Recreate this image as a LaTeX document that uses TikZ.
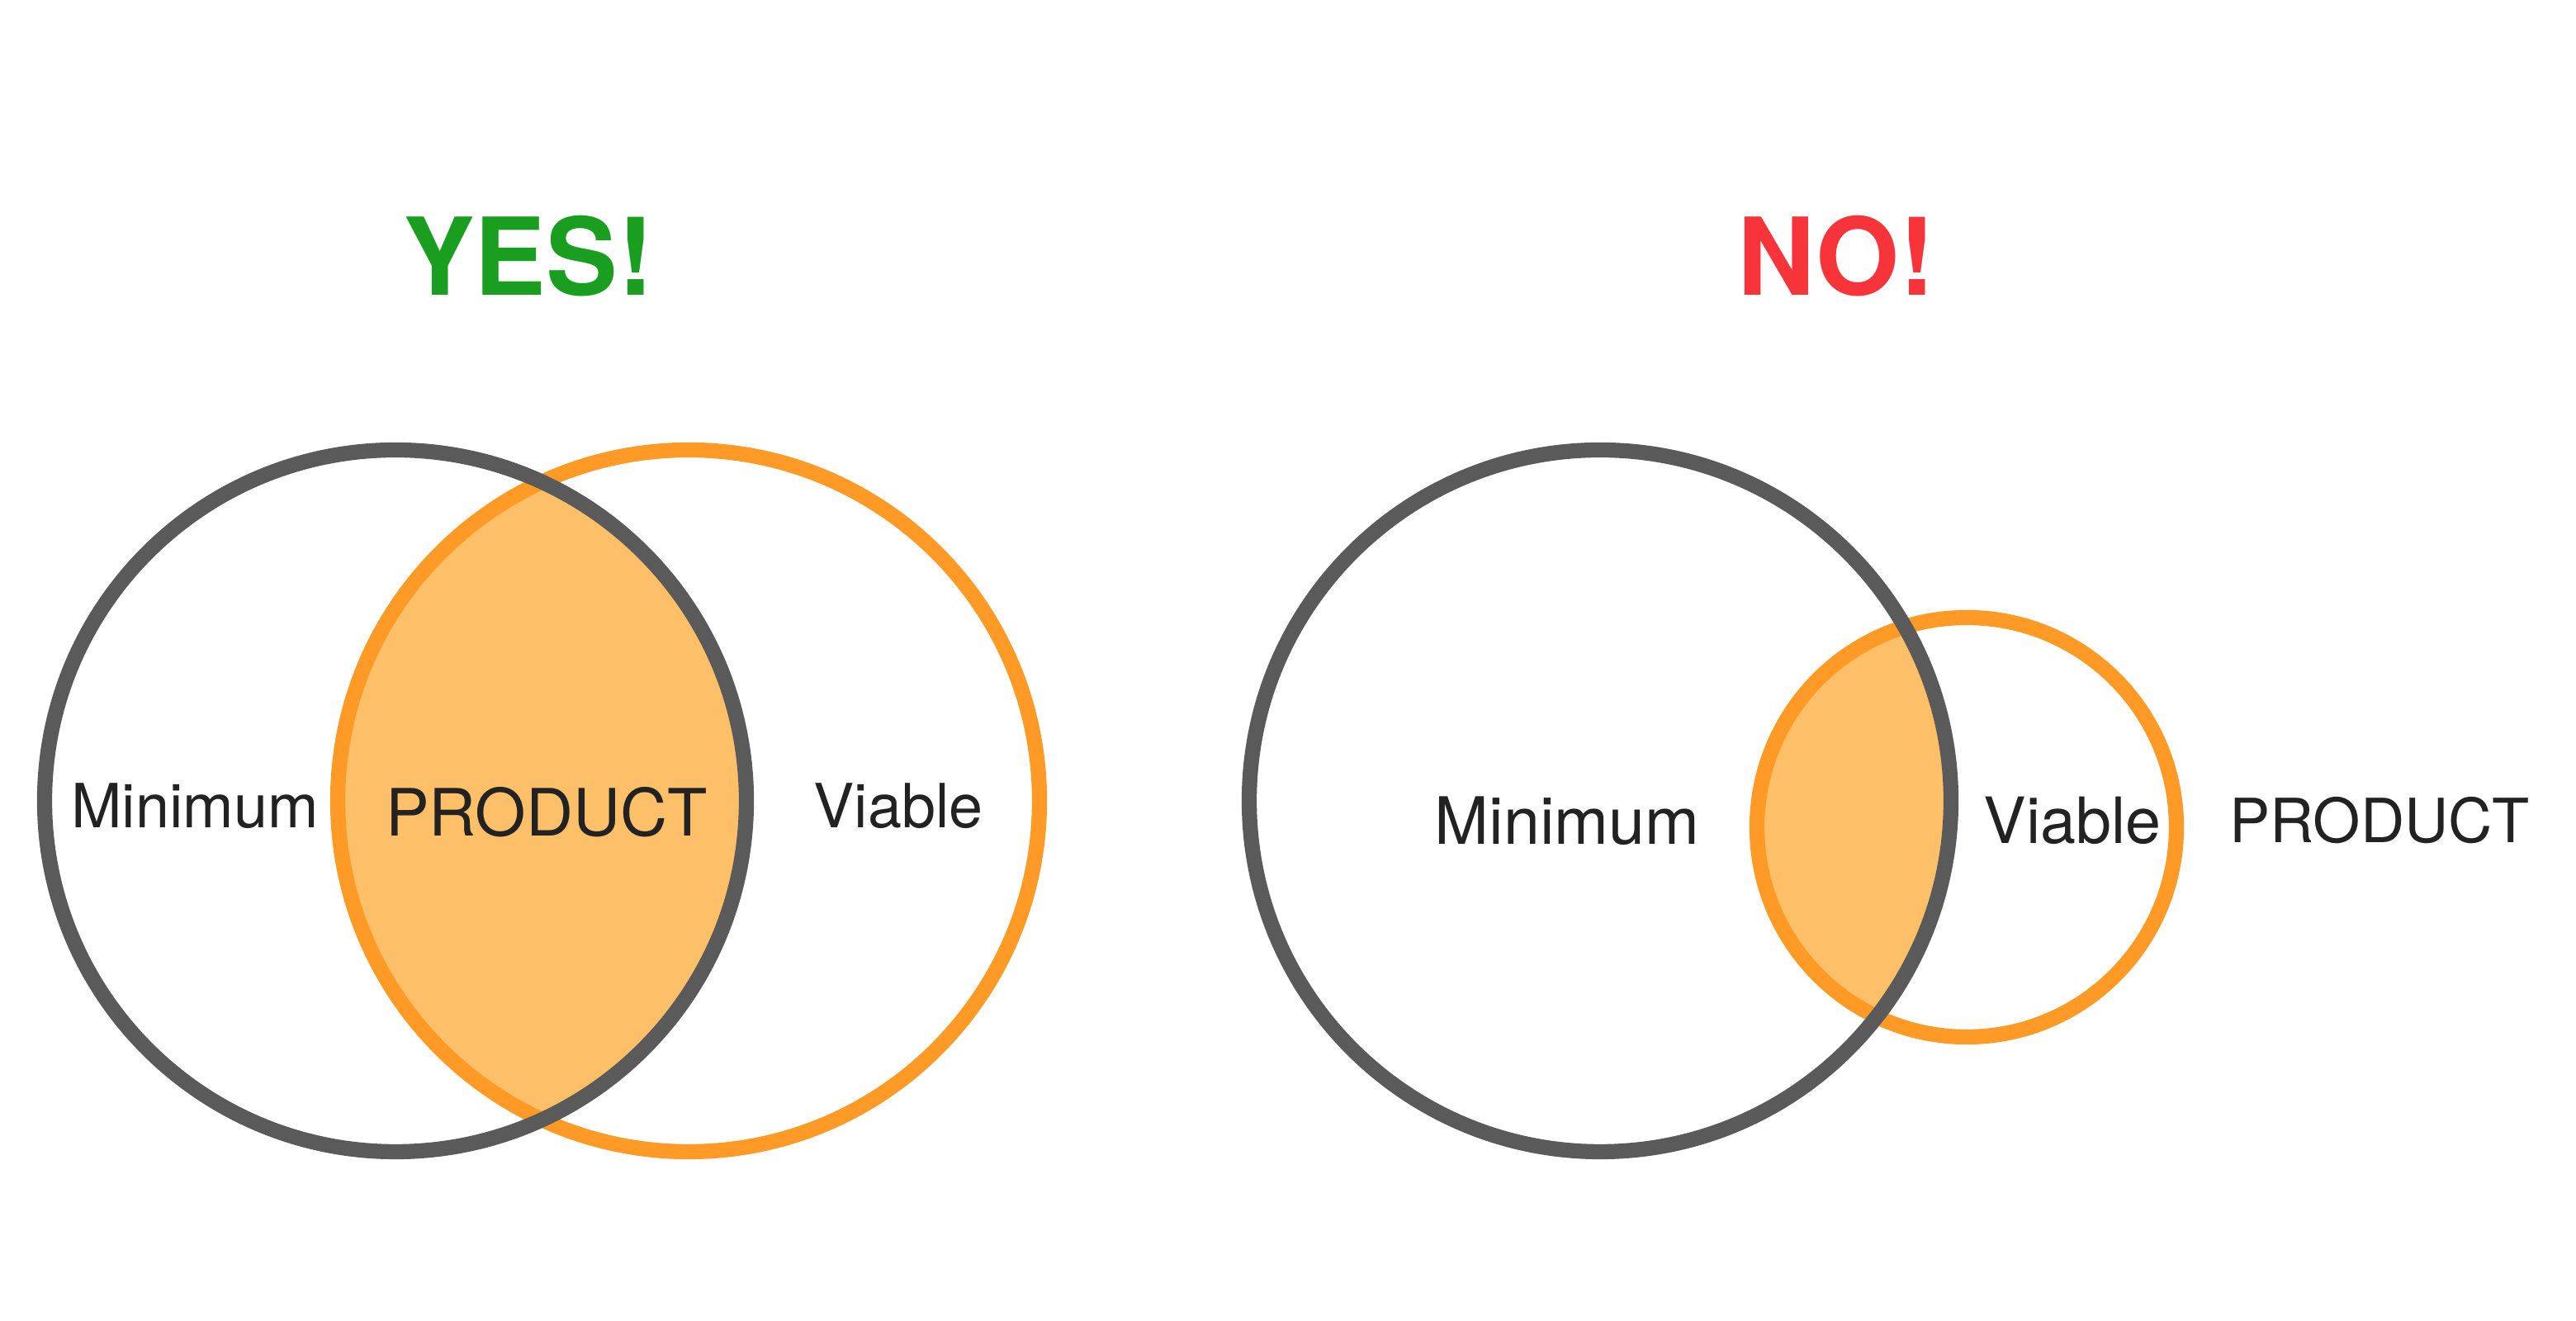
\documentclass[tikz,border=0pt]{standalone}
\usepackage{fontspec}
\setmainfont{TeX Gyre Heros}
\definecolor{yesgreen}{RGB}{26,158,32}
\definecolor{nored}{RGB}{246,52,58}
\definecolor{ringorange}{RGB}{255,154,38}
\definecolor{lensfill}{RGB}{253,192,104}
\definecolor{ringgray}{RGB}{90,90,90}
\definecolor{labeltext}{RGB}{34,34,34}
\begin{document}
\begin{tikzpicture}[
  grayring/.style={draw=ringgray, line width=5.2pt},
  orangering/.style={draw=ringorange, line width=5.2pt},
  lbl/.style={text=labeltext, inner sep=0pt, font=\fontsize{21}{25}\selectfont},
  head/.style={inner sep=0pt, font=\fontsize{37}{44}\selectfont\bfseries}
]
\useasboundingbox (0,0) rectangle (31.2,16);
% centres
\coordinate (gL) at (4.79,6.30);
\coordinate (oL) at (8.34,6.30);
\coordinate (gR) at (19.38,6.30);
\coordinate (oR) at (23.82,5.98);
% left lens
\begin{scope}
  \clip (gL) circle (4.25);
  \fill[lensfill] (oL) circle (4.25);
\end{scope}
\draw[orangering] (oL) circle (4.25);
\draw[grayring] (gL) circle (4.25);
% right lens
\begin{scope}
  \clip (gR) circle (4.25);
  \fill[lensfill] (oR) circle (2.54);
\end{scope}
\draw[orangering] (oR) circle (2.54);
\draw[grayring] (gR) circle (4.25);
% headings
\node[head, text=yesgreen] (yes) at (6.40,12.90) {YES!};
\node[head, text=nored] (no) at (22.24,12.90) {NO!};
% labels left
\node[lbl] (minL) at (2.36,6.24) {Minimum};
\node[lbl, font=\fontsize{22.5}{27}\selectfont] (prodL) at (6.62,6.16) {PRODUCT};
\node[lbl] (viaL) at (10.88,6.24) {Viable};
% labels right
\node[lbl, font=\fontsize{22.5}{27}\selectfont] (minR) at (18.98,6.06) {Minimum};
\node[lbl, font=\fontsize{22}{26}\selectfont] (viaR) at (25.10,6.06) {Viable};
\node[lbl] (prodR) at (28.82,6.06) {PRODUCT};
\end{tikzpicture}
\end{document}
